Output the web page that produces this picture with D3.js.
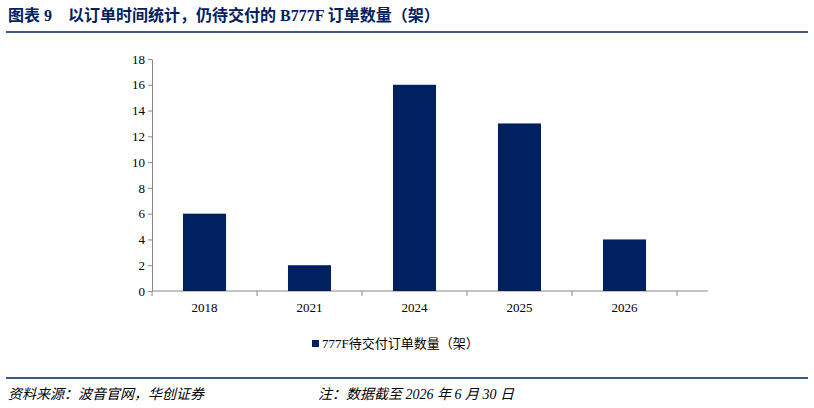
<!DOCTYPE html>
<html lang="zh">
<head>
<meta charset="UTF-8" />
<script src="https://d3js.org/d3.v7.min.js"></script>
<style>
  body { margin: 0; background: #fff; }
  svg text { font-family: "Times New Roman", "Liberation Serif", "Noto Sans CJK SC", serif; }
</style>
</head>
<body>
<svg id="chart" width="814" height="408"></svg>
<script>
  // data
  const years = ["2018", "2021", "2024", "2025", "2026"];
  const orders = [6, 2, 16, 13, 4];
  const yTicks = [0, 2, 4, 6, 8, 10, 12, 14, 16, 18];

  const navy = "#002060";
  const svg = d3.select("#chart");

  // title + rules
  svg.append("text").attr("x", 8).attr("y", 21)
    .attr("fill", navy).attr("font-size", 16).attr("font-weight", "bold")
    .text("图表 9　以订单时间统计，仍待交付的 B777F 订单数量（架）");
  svg.append("line").attr("x1", 6).attr("x2", 808).attr("y1", 32).attr("y2", 32)
    .attr("stroke", navy).attr("stroke-width", 1.5);
  svg.append("line").attr("x1", 6).attr("x2", 808).attr("y1", 378).attr("y2", 378)
    .attr("stroke", navy).attr("stroke-width", 1.5);

  svg.append("text").attr("x", 8).attr("y", 399).attr("font-size", 14)
    .attr("font-style", "italic").attr("fill", "#000")
    .text("资料来源：波音官网，华创证券");
  svg.append("text").attr("x", 318).attr("y", 399).attr("font-size", 14)
    .attr("font-style", "italic").attr("fill", "#000")
    .text("注：数据截至 2026 年 6 月 30 日");

  // scales
  const x = d3.scaleBand().domain(years).range([152, 677]).paddingInner(0.59).paddingOuter(0.295);
  const y = d3.scaleLinear().domain([0, 18]).range([291, 59]);

  const yAxis = svg.append("g").attr("transform", "translate(152,0)")
    .call(d3.axisLeft(y).tickValues(yTicks).tickSize(4).tickSizeOuter(0));
  yAxis.selectAll("text").attr("font-size", 13).attr("fill", "#000");
  yAxis.selectAll("line,path").attr("stroke", "#888");

  const xAxis = svg.append("g").attr("transform", "translate(0,291)")
    .call(d3.axisBottom(x).tickSize(0).tickSizeOuter(0).tickPadding(12));
  xAxis.selectAll("text").attr("font-size", 13).attr("fill", "#000");
  xAxis.select("path").remove();
  xAxis.append("line").attr("x1", 152).attr("x2", 708).attr("stroke", "#888");
  // category separator ticks
  const bounds = d3.range(years.length + 1).map(i => 152 + i * 105);
  xAxis.selectAll(".sep").data(bounds).join("line")
    .attr("x1", d => d).attr("x2", d => d).attr("y1", 0).attr("y2", 5).attr("stroke", "#888");

  svg.append("g").selectAll("rect").data(orders).join("rect")
    .attr("x", (d, i) => x(years[i])).attr("width", x.bandwidth())
    .attr("y", d => y(d)).attr("height", d => y(0) - y(d)).attr("fill", navy);

  // legend
  svg.append("rect").attr("x", 312).attr("y", 340).attr("width", 7).attr("height", 7).attr("fill", navy);
  svg.append("text").attr("x", 322).attr("y", 348).attr("font-size", 13).attr("fill", "#000")
    .text("777F待交付订单数量（架）");
</script>
</body>
</html>
